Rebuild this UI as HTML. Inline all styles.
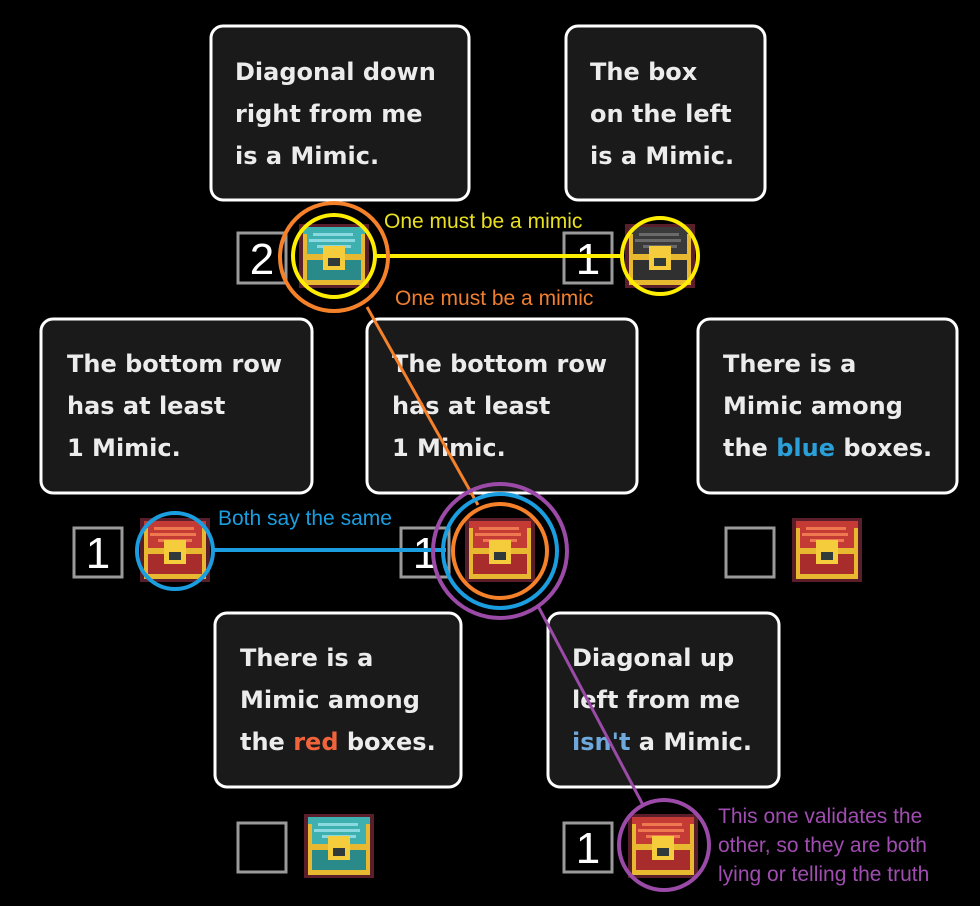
<!DOCTYPE html>
<html><head><meta charset="utf-8"><style>
html,body{margin:0;padding:0;background:#000;}
svg{display:block;}
.t{font-family:"DejaVu Sans","Liberation Sans",sans-serif;font-weight:bold;font-size:24px;fill:#ececec;}
.n{font-family:"Liberation Sans",sans-serif;font-size:44px;fill:#fff;}
.a{font-family:"Liberation Sans",sans-serif;font-size:21px;}
</style></head><body>
<svg width="980" height="906" viewBox="0 0 980 906" xmlns="http://www.w3.org/2000/svg">
<defs>
<g id="chest">
 <rect x="0" y="0" width="70" height="64" fill="#5a1d2a"/>
 <rect x="4" y="3" width="62" height="28" fill="var(--m)"/>
 <rect x="4" y="36" width="62" height="22" fill="var(--d)"/>
 <rect x="14" y="9" width="40" height="3" fill="var(--s)"/>
 <rect x="10" y="15" width="46" height="3" fill="var(--s)"/>
 <rect x="18" y="21" width="34" height="3" fill="var(--s)"/>
 <rect x="4" y="30" width="62" height="6" fill="#e8b830"/>
 <rect x="4" y="56" width="62" height="5" fill="#e8b830"/>
 <rect x="4" y="10" width="4" height="48" fill="#e8b830"/>
 <rect x="62" y="10" width="4" height="48" fill="#e8b830"/>
 <rect x="24" y="22" width="22" height="24" fill="#f4cc3c"/>
 <rect x="29" y="34" width="12" height="8" fill="#303a3a"/>
</g>
</defs>

<g fill="#1a1a1a" stroke="#fff" stroke-width="3">
<rect x="211" y="26" width="258" height="174" rx="12"/>
<rect x="566" y="26" width="199" height="174" rx="12"/>
<rect x="41" y="319" width="271" height="174" rx="12"/>
<rect x="367" y="319" width="270" height="174" rx="12"/>
<rect x="698" y="319" width="259" height="174" rx="12"/>
<rect x="215" y="613" width="246" height="174" rx="12"/>
<rect x="548" y="613" width="231" height="174" rx="12"/>
</g>

<text class="t" x="235" y="80">Diagonal down</text>
<text class="t" x="235" y="122">right from me</text>
<text class="t" x="235" y="164">is a Mimic.</text>
<text class="t" x="590" y="80">The box</text>
<text class="t" x="590" y="122">on the left</text>
<text class="t" x="590" y="164">is a Mimic.</text>
<text class="t" x="67" y="372">The bottom row</text>
<text class="t" x="67" y="414">has at least</text>
<text class="t" x="67" y="456">1 Mimic.</text>
<text class="t" x="392" y="372">The bottom row</text>
<text class="t" x="392" y="414">has at least</text>
<text class="t" x="392" y="456">1 Mimic.</text>
<text class="t" x="723" y="372">There is a</text>
<text class="t" x="723" y="414">Mimic among</text>
<text class="t" x="723" y="456">the <tspan fill="#2a9fd8">blue</tspan> boxes.</text>
<text class="t" x="240" y="666">There is a</text>
<text class="t" x="240" y="708">Mimic among</text>
<text class="t" x="240" y="750">the <tspan fill="#f0643c">red</tspan> boxes.</text>
<text class="t" x="572" y="666">Diagonal up</text>
<text class="t" x="572" y="708">left from me</text>
<text class="t" x="572" y="750"><tspan fill="#6fa8dc">isn't</tspan> a Mimic.</text>

<g fill="#000" stroke="#9a9a9a" stroke-width="3">
<rect x="238" y="233" width="48" height="50"/>
<rect x="564" y="233" width="48" height="50"/>
<rect x="74" y="528" width="48" height="49"/>
<rect x="401" y="528" width="48" height="49"/>
<rect x="726" y="528" width="48" height="49"/>
<rect x="238" y="823" width="48" height="49"/>
<rect x="564" y="823" width="48" height="49"/>
</g>
<text class="n" x="262" y="274" text-anchor="middle">2</text>
<text class="n" x="588" y="274" text-anchor="middle">1</text>
<text class="n" x="98" y="568" text-anchor="middle">1</text>
<text class="n" x="425" y="568" text-anchor="middle">1</text>
<text class="n" x="588" y="863" text-anchor="middle">1</text>

<use href="#chest" x="299" y="224" style="--m:#3fb0b0;--d:#2a8a8a;--s:#8ad8e0"/>
<use href="#chest" x="625" y="224" style="--m:#3a3a3a;--d:#303030;--s:#6a6a6a"/>
<use href="#chest" x="140" y="518" style="--m:#c43a34;--d:#a82c2c;--s:#f07850"/>
<use href="#chest" x="465" y="518" style="--m:#c43a34;--d:#a82c2c;--s:#f07850"/>
<use href="#chest" x="792" y="518" style="--m:#c43a34;--d:#a82c2c;--s:#f07850"/>
<use href="#chest" x="304" y="814" style="--m:#3fb0b0;--d:#2a8a8a;--s:#8ad8e0"/>
<use href="#chest" x="628" y="814" style="--m:#c43a34;--d:#a82c2c;--s:#f07850"/>

<g fill="none" stroke-width="4">
<line x1="374" y1="256" x2="622" y2="256" stroke="#ffee00"/>
<circle cx="334" cy="256" r="41" stroke="#ffee00"/>
<circle cx="660" cy="256" r="38" stroke="#ffee00"/>
<circle cx="334" cy="257" r="54" stroke="#f5822a"/>
<line x1="367" y1="307" x2="478" y2="505" stroke="#f5822a" stroke-width="3"/>
<line x1="213" y1="550" x2="446" y2="550" stroke="#1a9ee0"/>
<circle cx="175" cy="551" r="38" stroke="#1a9ee0"/>
<circle cx="500" cy="551" r="47" stroke="#f5822a"/>
<circle cx="500" cy="551" r="57" stroke="#1a9ee0"/>
<circle cx="500" cy="551" r="67" stroke="#9b4aa8"/>
<line x1="538" y1="606" x2="643" y2="805" stroke="#9b4aa8" stroke-width="3"/>
<circle cx="664" cy="845" r="45" stroke="#9b4aa8"/>
</g>

<text class="a" x="384" y="228" fill="#e8e020">One must be a mimic</text>
<text class="a" x="395" y="305" fill="#f08030">One must be a mimic</text>
<text class="a" x="218" y="525" fill="#1a9ee0">Both say the same</text>
<text class="a" x="718" y="823" fill="#a04cb0">This one validates the</text>
<text class="a" x="718" y="852" fill="#a04cb0">other, so they are both</text>
<text class="a" x="718" y="881" fill="#a04cb0">lying or telling the truth</text>
</svg>
</body></html>
